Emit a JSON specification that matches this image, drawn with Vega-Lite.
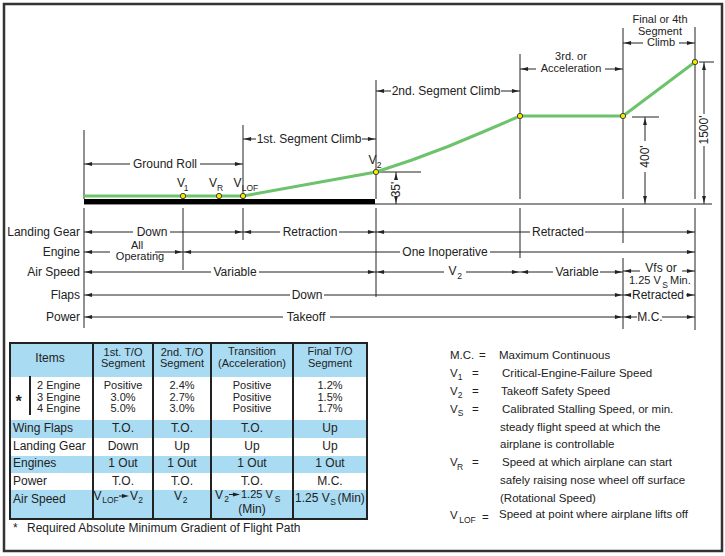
{
  "$schema": "https://vega.github.io/schema/vega-lite/v6.json",
  "width": 725,
  "height": 556,
  "autosize": {"type": "none"},
  "padding": 0,
  "background": "white",
  "config": {"view": {"stroke": null}},
  "datasets": {
    "bluerect": [
      {"x": 10, "x2": 367, "y": 343, "y2": 377},
      {"x": 10, "x2": 367, "y": 420, "y2": 438},
      {"x": 10, "x2": 367, "y": 456, "y2": 473},
      {"x": 10, "x2": 367, "y": 490, "y2": 519}
    ],
    "frame": [{"x": 4, "x2": 722, "y": 4, "y2": 551}],
    "tframe": [{"x": 10, "x2": 367, "y": 343, "y2": 519}],
    "tv": [
      {"x": 93, "y": 343, "y2": 519},
      {"x": 153, "y": 343, "y2": 519},
      {"x": 211, "y": 343, "y2": 519},
      {"x": 293, "y": 343, "y2": 519},
      {"x": 30, "y": 376, "y2": 415}
    ],
    "hs": [
      {"x": 84, "x2": 130, "y": 164}, {"x": 200, "x2": 243, "y": 164},
      {"x": 243, "x2": 256, "y": 139}, {"x": 362, "x2": 376, "y": 139},
      {"x": 376, "x2": 391, "y": 91}, {"x": 501, "x2": 520, "y": 91},
      {"x": 520, "x2": 536, "y": 69}, {"x": 605, "x2": 623, "y": 69},
      {"x": 623, "x2": 643, "y": 43}, {"x": 679, "x2": 695, "y": 43},
      {"x": 84, "x2": 133, "y": 232}, {"x": 170, "x2": 243, "y": 232},
      {"x": 243, "x2": 280, "y": 232}, {"x": 339, "x2": 376, "y": 232},
      {"x": 376, "x2": 530, "y": 232}, {"x": 585, "x2": 695, "y": 232},
      {"x": 84, "x2": 110, "y": 252}, {"x": 155, "x2": 183, "y": 252},
      {"x": 183, "x2": 400, "y": 252}, {"x": 490, "x2": 695, "y": 252},
      {"x": 84, "x2": 211, "y": 272}, {"x": 259, "x2": 376, "y": 272},
      {"x": 376, "x2": 444, "y": 272}, {"x": 466, "x2": 520, "y": 272},
      {"x": 520, "x2": 553, "y": 272}, {"x": 600, "x2": 623, "y": 272},
      {"x": 623, "x2": 640, "y": 271}, {"x": 682, "x2": 695, "y": 271},
      {"x": 84, "x2": 290, "y": 295}, {"x": 324, "x2": 623, "y": 295},
      {"x": 623, "x2": 631, "y": 295}, {"x": 686, "x2": 695, "y": 295},
      {"x": 84, "x2": 283, "y": 317}, {"x": 330, "x2": 623, "y": 317},
      {"x": 623, "x2": 637, "y": 317}, {"x": 662, "x2": 695, "y": 317},
      {"x": 378, "x2": 421, "y": 172}, {"x": 632, "x2": 659, "y": 117},
      {"x": 699, "x2": 714, "y": 62},
      {"x": 84, "x2": 712, "y": 204},
      {"x": 119, "x2": 124, "y": 496}, {"x": 229, "x2": 235, "y": 494.5}
    ],
    "vs": [
      {"x": 84, "y": 130, "y2": 199}, {"x": 84, "y": 208, "y2": 328},
      {"x": 183, "y": 208, "y2": 270},
      {"x": 243, "y": 125, "y2": 199}, {"x": 243, "y": 208, "y2": 240},
      {"x": 376, "y": 80, "y2": 199}, {"x": 376, "y": 208, "y2": 297},
      {"x": 520, "y": 54, "y2": 199}, {"x": 520, "y": 208, "y2": 258},
      {"x": 623, "y": 28, "y2": 199}, {"x": 623, "y": 208, "y2": 243}, {"x": 623, "y": 258, "y2": 329},
      {"x": 695, "y": 27, "y2": 199}, {"x": 695, "y": 208, "y2": 330},
      {"x": 396, "y": 172, "y2": 180}, {"x": 396, "y": 199, "y2": 204},
      {"x": 645, "y": 117, "y2": 141}, {"x": 645, "y": 172, "y2": 204},
      {"x": 704, "y": 62, "y2": 114}, {"x": 704, "y": 146, "y2": 204}
    ],
    "bar": [{"x": 84, "x2": 375, "y": 201.5}],
    "path": [
      {"o": 1, "x": 84, "y": 196}, {"o": 2, "x": 183, "y": 196},
      {"o": 3, "x": 219, "y": 196}, {"o": 4, "x": 243, "y": 196},
      {"o": 5, "x": 376, "y": 172}, {"o": 6, "x": 412, "y": 160},
      {"o": 7, "x": 448, "y": 146.5}, {"o": 8, "x": 484, "y": 131.5},
      {"o": 9, "x": 520, "y": 116}, {"o": 10, "x": 623, "y": 116},
      {"o": 11, "x": 695, "y": 62}
    ],
    "dots": [
      {"x": 183, "y": 196}, {"x": 219, "y": 196}, {"x": 243, "y": 196},
      {"x": 376, "y": 172}, {"x": 520, "y": 116}, {"x": 623, "y": 116},
      {"x": 695, "y": 62}
    ],
    "heads": [
      {"x": 85, "y": 164, "d": "L"}, {"x": 242, "y": 164, "d": "R"},
      {"x": 244, "y": 139, "d": "L"}, {"x": 375, "y": 139, "d": "R"},
      {"x": 377, "y": 91, "d": "L"}, {"x": 519, "y": 91, "d": "R"},
      {"x": 521, "y": 69, "d": "L"}, {"x": 622, "y": 69, "d": "R"},
      {"x": 624, "y": 43, "d": "L"}, {"x": 694, "y": 43, "d": "R"},
      {"x": 85, "y": 232, "d": "L"}, {"x": 242, "y": 232, "d": "R"},
      {"x": 244, "y": 232, "d": "L"}, {"x": 375, "y": 232, "d": "R"},
      {"x": 377, "y": 232, "d": "L"}, {"x": 694, "y": 232, "d": "R"},
      {"x": 85, "y": 252, "d": "L"}, {"x": 182, "y": 252, "d": "R"},
      {"x": 184, "y": 252, "d": "L"}, {"x": 694, "y": 252, "d": "R"},
      {"x": 85, "y": 272, "d": "L"}, {"x": 375, "y": 272, "d": "R"},
      {"x": 377, "y": 272, "d": "L"}, {"x": 519, "y": 272, "d": "R"},
      {"x": 521, "y": 272, "d": "L"}, {"x": 622, "y": 272, "d": "R"},
      {"x": 624, "y": 271, "d": "L"}, {"x": 694, "y": 271, "d": "R"},
      {"x": 85, "y": 295, "d": "L"}, {"x": 622, "y": 295, "d": "R"},
      {"x": 624, "y": 295, "d": "L"}, {"x": 694, "y": 295, "d": "R"},
      {"x": 85, "y": 317, "d": "L"}, {"x": 622, "y": 317, "d": "R"},
      {"x": 624, "y": 317, "d": "L"}, {"x": 694, "y": 317, "d": "R"},
      {"x": 396, "y": 173, "d": "U"}, {"x": 396, "y": 203, "d": "D"},
      {"x": 645, "y": 118, "d": "U"}, {"x": 645, "y": 203, "d": "D"},
      {"x": 704, "y": 63, "d": "U"}, {"x": 704, "y": 203, "d": "D"},
      {"x": 129, "y": 496, "d": "R"}, {"x": 240, "y": 494.5, "d": "R"}
    ],
    "tc": [
      {"x": 165, "y": 164, "t": "Ground Roll"},
      {"x": 309, "y": 139, "t": "1st. Segment Climb"},
      {"x": 446, "y": 91, "t": "2nd. Segment Climb"},
      {"x": 152, "y": 232, "t": "Down"},
      {"x": 310, "y": 232, "t": "Retraction"},
      {"x": 558, "y": 232, "t": "Retracted"},
      {"x": 445, "y": 252, "t": "One Inoperative"},
      {"x": 235, "y": 272, "t": "Variable"},
      {"x": 577, "y": 272, "t": "Variable"},
      {"x": 661, "y": 268, "t": "Vfs or"},
      {"x": 307, "y": 295, "t": "Down"},
      {"x": 658, "y": 295, "t": "Retracted"},
      {"x": 306, "y": 317, "t": "Takeoff"},
      {"x": 650, "y": 317, "t": "M.C."},
      {"x": 181, "y": 183, "t": "V"},
      {"x": 213, "y": 183, "t": "V"},
      {"x": 237.5, "y": 183, "t": "V"},
      {"x": 372.5, "y": 160, "t": "V"},
      {"x": 452.5, "y": 271, "t": "V"},
      {"x": 50, "y": 358, "t": "Items"},
      {"x": 123, "y": 428, "t": "T.O."}, {"x": 182, "y": 428, "t": "T.O."}, {"x": 252, "y": 428, "t": "T.O."}, {"x": 330, "y": 428, "t": "Up"},
      {"x": 123, "y": 446, "t": "Down"}, {"x": 182, "y": 446, "t": "Up"}, {"x": 252, "y": 446, "t": "Up"}, {"x": 330, "y": 446, "t": "Up"},
      {"x": 123, "y": 463, "t": "1 Out"}, {"x": 182, "y": 463, "t": "1 Out"}, {"x": 252, "y": 463, "t": "1 Out"}, {"x": 330, "y": 463, "t": "1 Out"},
      {"x": 123, "y": 481, "t": "T.O."}, {"x": 182, "y": 481, "t": "T.O."}, {"x": 252, "y": 481, "t": "T.O."}, {"x": 330, "y": 481, "t": "M.C."},
      {"x": 97.5, "y": 496, "t": "V"}, {"x": 134, "y": 496, "t": "V"},
      {"x": 178, "y": 496, "t": "V"},
      {"x": 219, "y": 494.5, "t": "V"}, {"x": 252, "y": 509, "t": "(Min)"}
    ],
    "tc11": [
      {"x": 571, "y": 57, "t": "3rd. or"},
      {"x": 571, "y": 69, "t": "Acceleration"},
      {"x": 660, "y": 20, "t": "Final or 4th"},
      {"x": 660, "y": 32, "t": "Segment"},
      {"x": 661, "y": 43, "t": "Climb"},
      {"x": 137, "y": 246, "t": "All"},
      {"x": 140, "y": 257, "t": "Operating"},
      {"x": 123, "y": 352.5, "t": "1st. T/O"}, {"x": 123, "y": 364, "t": "Segment"},
      {"x": 182, "y": 352.5, "t": "2nd. T/O"}, {"x": 182, "y": 364, "t": "Segment"},
      {"x": 252, "y": 352, "t": "Transition"}, {"x": 252, "y": 363.5, "t": "(Acceleration)"},
      {"x": 330, "y": 352, "t": "Final T/O"}, {"x": 330, "y": 363.5, "t": "Segment"},
      {"x": 123, "y": 386, "t": "Positive"}, {"x": 123, "y": 397.5, "t": "3.0%"}, {"x": 123, "y": 409, "t": "5.0%"},
      {"x": 182, "y": 386, "t": "2.4%"}, {"x": 182, "y": 397.5, "t": "2.7%"}, {"x": 182, "y": 409, "t": "3.0%"},
      {"x": 252, "y": 386, "t": "Positive"}, {"x": 252, "y": 397.5, "t": "Positive"}, {"x": 252, "y": 409, "t": "Positive"},
      {"x": 330, "y": 386, "t": "1.2%"}, {"x": 330, "y": 397.5, "t": "1.5%"}, {"x": 330, "y": 409, "t": "1.7%"}
    ],
    "tl11": [
      {"x": 37, "y": 386, "t": "2 Engine"}, {"x": 37, "y": 397.5, "t": "3 Engine"}, {"x": 37, "y": 409, "t": "4 Engine"},
      {"x": 629, "y": 281, "t": "1.25 V"}, {"x": 670, "y": 281, "t": "Min."},
      {"x": 241, "y": 494.5, "t": "1.25 V"}
    ],
    "tl": [
      {"x": 13, "y": 428, "t": "Wing Flaps"}, {"x": 13, "y": 446, "t": "Landing Gear"},
      {"x": 13, "y": 463, "t": "Engines"}, {"x": 13, "y": 481, "t": "Power"}, {"x": 13, "y": 499, "t": "Air Speed"},
      {"x": 295, "y": 498, "t": "1.25 V"}, {"x": 337.5, "y": 498, "t": "(Min)"},
      {"x": 13, "y": 528, "t": "*"},
      {"x": 27, "y": 528, "t": "Required Absolute Minimum Gradient of Flight Path"}
    ],
    "tr": [
      {"x": 80, "y": 232, "t": "Landing Gear"},
      {"x": 80, "y": 252, "t": "Engine"},
      {"x": 80, "y": 272, "t": "Air Speed"},
      {"x": 80, "y": 295, "t": "Flaps"},
      {"x": 80, "y": 317, "t": "Power"}
    ],
    "tleg": [
      {"x": 450, "y": 356, "t": "M.C."}, {"x": 479, "y": 356, "t": "="},
      {"x": 499, "y": 356, "t": "Maximum Continuous"},
      {"x": 450, "y": 374, "t": "V"}, {"x": 472, "y": 374, "t": "="},
      {"x": 502, "y": 374, "t": "Critical-Engine-Failure Speed"},
      {"x": 450, "y": 392, "t": "V"}, {"x": 472, "y": 392, "t": "="},
      {"x": 501, "y": 392, "t": "Takeoff Safety Speed"},
      {"x": 450, "y": 410, "t": "V"}, {"x": 472, "y": 410, "t": "="},
      {"x": 502, "y": 410, "t": "Calibrated Stalling Speed, or min."},
      {"x": 500, "y": 428, "t": "steady flight speed at which the"},
      {"x": 500, "y": 445, "t": "airplane is controllable"},
      {"x": 450, "y": 463, "t": "V"}, {"x": 472, "y": 463, "t": "="},
      {"x": 502, "y": 463, "t": "Speed at which airplane can start"},
      {"x": 500, "y": 481, "t": "safely raising nose wheel off surface"},
      {"x": 500, "y": 499, "t": "(Rotational Speed)"},
      {"x": 450, "y": 516, "t": "V"}, {"x": 482, "y": 518, "t": "="},
      {"x": 499, "y": 515, "t": "Speed at point where airplane lifts off"}
    ],
    "sub": [
      {"x": 186, "y": 188, "t": "1"}, {"x": 220, "y": 188, "t": "R"}, {"x": 250, "y": 188, "t": "LOF"},
      {"x": 379, "y": 164.5, "t": "2"}, {"x": 459.5, "y": 275.5, "t": "2"}, {"x": 665, "y": 284.5, "t": "S"},
      {"x": 110.5, "y": 499.5, "t": "LOF"}, {"x": 140.5, "y": 500, "t": "2"}, {"x": 185, "y": 500, "t": "2"},
      {"x": 226.5, "y": 498.5, "t": "2"}, {"x": 277.5, "y": 498.5, "t": "S"}, {"x": 333, "y": 502, "t": "S"},
      {"x": 460, "y": 377, "t": "1"}, {"x": 460, "y": 395, "t": "2"}, {"x": 460.5, "y": 413, "t": "S"},
      {"x": 460, "y": 467, "t": "R"}, {"x": 467.5, "y": 520, "t": "LOF"}
    ],
    "rot": [
      {"x": 396, "y": 189.5, "t": "35'"},
      {"x": 645, "y": 156.5, "t": "400'"},
      {"x": 704, "y": 130, "t": "1500'"}
    ],
    "star": [{"x": 18.5, "y": 402, "t": "*"}]
  },
  "encoding": {
    "x": {"field": "x", "type": "quantitative", "scale": {"domain": [0, 725], "nice": false, "zero": false}, "axis": null},
    "y": {"field": "y", "type": "quantitative", "scale": {"domain": [0, 556], "nice": false, "zero": false, "reverse": true}, "axis": null}
  },
  "layer": [
    {"data": {"name": "bluerect"}, "mark": {"type": "rect", "fill": "#a9dbf3", "stroke": null},
     "encoding": {"x2": {"field": "x2"}, "y2": {"field": "y2"}}},
    {"data": {"name": "tv"}, "mark": {"type": "rule", "color": "#222", "strokeWidth": 2},
     "encoding": {"y2": {"field": "y2"}}},
    {"data": {"name": "tframe"}, "mark": {"type": "rect", "filled": false, "stroke": "#222", "strokeWidth": 2},
     "encoding": {"x2": {"field": "x2"}, "y2": {"field": "y2"}}},
    {"data": {"name": "frame"}, "mark": {"type": "rect", "filled": false, "stroke": "#333", "strokeWidth": 2.5},
     "encoding": {"x2": {"field": "x2"}, "y2": {"field": "y2"}}},
    {"data": {"name": "hs"}, "mark": {"type": "rule", "color": "#222", "strokeWidth": 1},
     "encoding": {"x2": {"field": "x2"}}},
    {"data": {"name": "vs"}, "mark": {"type": "rule", "color": "#222", "strokeWidth": 1},
     "encoding": {"y2": {"field": "y2"}}},
    {"data": {"name": "bar"}, "mark": {"type": "rule", "color": "#000", "strokeWidth": 5},
     "encoding": {"x2": {"field": "x2"}}},
    {"data": {"name": "path"}, "mark": {"type": "line", "color": "#6cc36c", "strokeWidth": 3},
     "encoding": {"order": {"field": "o", "type": "quantitative"}}},
    {"data": {"name": "dots"}, "mark": {"type": "point", "filled": true, "fill": "#f2e800", "stroke": "#444", "strokeWidth": 1, "size": 28, "opacity": 1}},
    {"data": {"name": "heads"}, "mark": {"type": "point", "filled": true, "color": "#222", "size": 50, "opacity": 1},
     "encoding": {"shape": {"field": "d", "type": "nominal", "legend": null,
       "scale": {"domain": ["L", "R", "U", "D"],
                 "range": ["M0,0L2,-0.55L2,0.55Z", "M0,0L-2,-0.55L-2,0.55Z", "M0,0L-0.55,2L0.55,2Z", "M0,0L-0.55,-2L0.55,-2Z"]}}}},
    {"data": {"name": "tc"}, "mark": {"type": "text", "align": "center", "baseline": "middle", "font": "Liberation Sans", "fontSize": 12, "fill": "#222"},
     "encoding": {"text": {"field": "t"}}},
    {"data": {"name": "tc11"}, "mark": {"type": "text", "align": "center", "baseline": "middle", "font": "Liberation Sans", "fontSize": 11, "fill": "#222"},
     "encoding": {"text": {"field": "t"}}},
    {"data": {"name": "tl11"}, "mark": {"type": "text", "align": "left", "baseline": "middle", "font": "Liberation Sans", "fontSize": 11, "fill": "#222"},
     "encoding": {"text": {"field": "t"}}},
    {"data": {"name": "tl"}, "mark": {"type": "text", "align": "left", "baseline": "middle", "font": "Liberation Sans", "fontSize": 12, "fill": "#222"},
     "encoding": {"text": {"field": "t"}}},
    {"data": {"name": "tr"}, "mark": {"type": "text", "align": "right", "baseline": "middle", "font": "Liberation Sans", "fontSize": 12, "fill": "#222"},
     "encoding": {"text": {"field": "t"}}},
    {"data": {"name": "tleg"}, "mark": {"type": "text", "align": "left", "baseline": "middle", "font": "Liberation Sans", "fontSize": 11.5, "fill": "#222"},
     "encoding": {"text": {"field": "t"}}},
    {"data": {"name": "sub"}, "mark": {"type": "text", "align": "center", "baseline": "middle", "font": "Liberation Sans", "fontSize": 8.5, "fill": "#222"},
     "encoding": {"text": {"field": "t"}}},
    {"data": {"name": "rot"}, "mark": {"type": "text", "align": "center", "baseline": "middle", "angle": 270, "font": "Liberation Sans", "fontSize": 12, "fill": "#222"},
     "encoding": {"text": {"field": "t"}}},
    {"data": {"name": "star"}, "mark": {"type": "text", "align": "center", "baseline": "middle", "font": "Liberation Sans", "fontSize": 16, "fontWeight": "bold", "fill": "#222"},
     "encoding": {"text": {"field": "t"}}}
  ]
}
